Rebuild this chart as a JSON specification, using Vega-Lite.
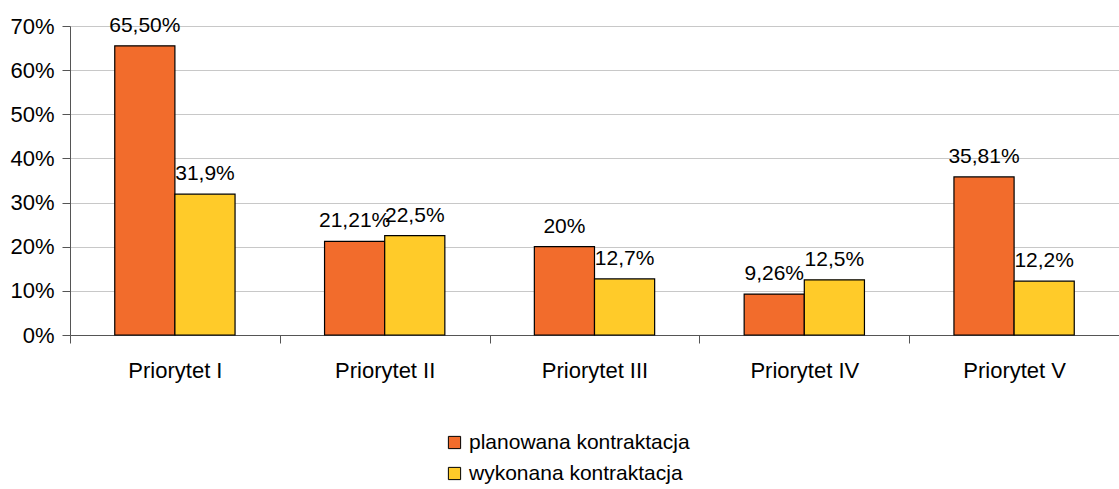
{
  "$schema": "https://vega.github.io/schema/vega-lite/v6.json",
  "width": 1049,
  "height": 309,
  "autosize": {"type": "none"},
  "padding": {"left": 70, "top": 26, "right": 0, "bottom": 154},
  "background": "white",
  "config": {"view": {"stroke": null}, "font": "Liberation Sans"},
  "data": {
    "values": [
      {"priorytet": "Priorytet I", "seria": "planowana kontraktacja", "wartosc": 65.5, "etykieta": "65,50%"},
      {"priorytet": "Priorytet I", "seria": "wykonana kontraktacja", "wartosc": 31.9, "etykieta": "31,9%"},
      {"priorytet": "Priorytet II", "seria": "planowana kontraktacja", "wartosc": 21.21, "etykieta": "21,21%"},
      {"priorytet": "Priorytet II", "seria": "wykonana kontraktacja", "wartosc": 22.5, "etykieta": "22,5%"},
      {"priorytet": "Priorytet III", "seria": "planowana kontraktacja", "wartosc": 20, "etykieta": "20%"},
      {"priorytet": "Priorytet III", "seria": "wykonana kontraktacja", "wartosc": 12.7, "etykieta": "12,7%"},
      {"priorytet": "Priorytet IV", "seria": "planowana kontraktacja", "wartosc": 9.26, "etykieta": "9,26%"},
      {"priorytet": "Priorytet IV", "seria": "wykonana kontraktacja", "wartosc": 12.5, "etykieta": "12,5%"},
      {"priorytet": "Priorytet V", "seria": "planowana kontraktacja", "wartosc": 35.81, "etykieta": "35,81%"},
      {"priorytet": "Priorytet V", "seria": "wykonana kontraktacja", "wartosc": 12.2, "etykieta": "12,2%"}
    ]
  },
  "encoding": {
    "x": {
      "field": "priorytet", "type": "nominal", "sort": null,
      "scale": {"paddingInner": 0, "paddingOuter": 0},
      "axis": {"title": null, "labelAngle": 0, "tickBand": "extent", "labelFontSize": 22, "labelColor": "#000",
               "domainColor": "#555", "tickColor": "#555", "tickSize": 8, "labelPadding": 17, "grid": false}
    },
    "xOffset": {"field": "seria", "type": "nominal", "sort": null, "scale": {"paddingInner": 0, "paddingOuter": 0.744}},
    "y": {
      "field": "wartosc", "type": "quantitative",
      "scale": {"domain": [0, 70]},
      "axis": {"title": null, "values": [0, 10, 20, 30, 40, 50, 60, 70], "labelExpr": "datum.value + '%'",
               "labelFontSize": 22, "labelColor": "#000", "domainColor": "#555", "tickColor": "#555", "tickSize": 8,
               "labelPadding": 8, "gridColor": "#c8c8c8", "gridWidth": 1}
    }
  },
  "layer": [
    {
      "mark": {"type": "bar", "stroke": "#000", "strokeWidth": 1.2},
      "encoding": {
        "color": {
          "field": "seria", "type": "nominal",
          "scale": {"domain": ["planowana kontraktacja", "wykonana kontraktacja"], "range": ["#F26C2C", "#FFCB29"]},
          "legend": {"title": null, "orient": "none", "legendX": 374, "legendY": 406, "symbolType": "square",
                     "symbolSize": 150, "symbolStrokeColor": "#000", "symbolStrokeWidth": 1, "symbolOpacity": 1,
                     "labelFontSize": 21, "labelColor": "#000", "labelLimit": 0, "rowPadding": 9, "labelOffset": 4}
        }
      }
    },
    {
      "mark": {"type": "text", "baseline": "alphabetic", "dy": -14, "fontSize": 21, "color": "#000"},
      "encoding": {"text": {"field": "etykieta"}}
    }
  ]
}
